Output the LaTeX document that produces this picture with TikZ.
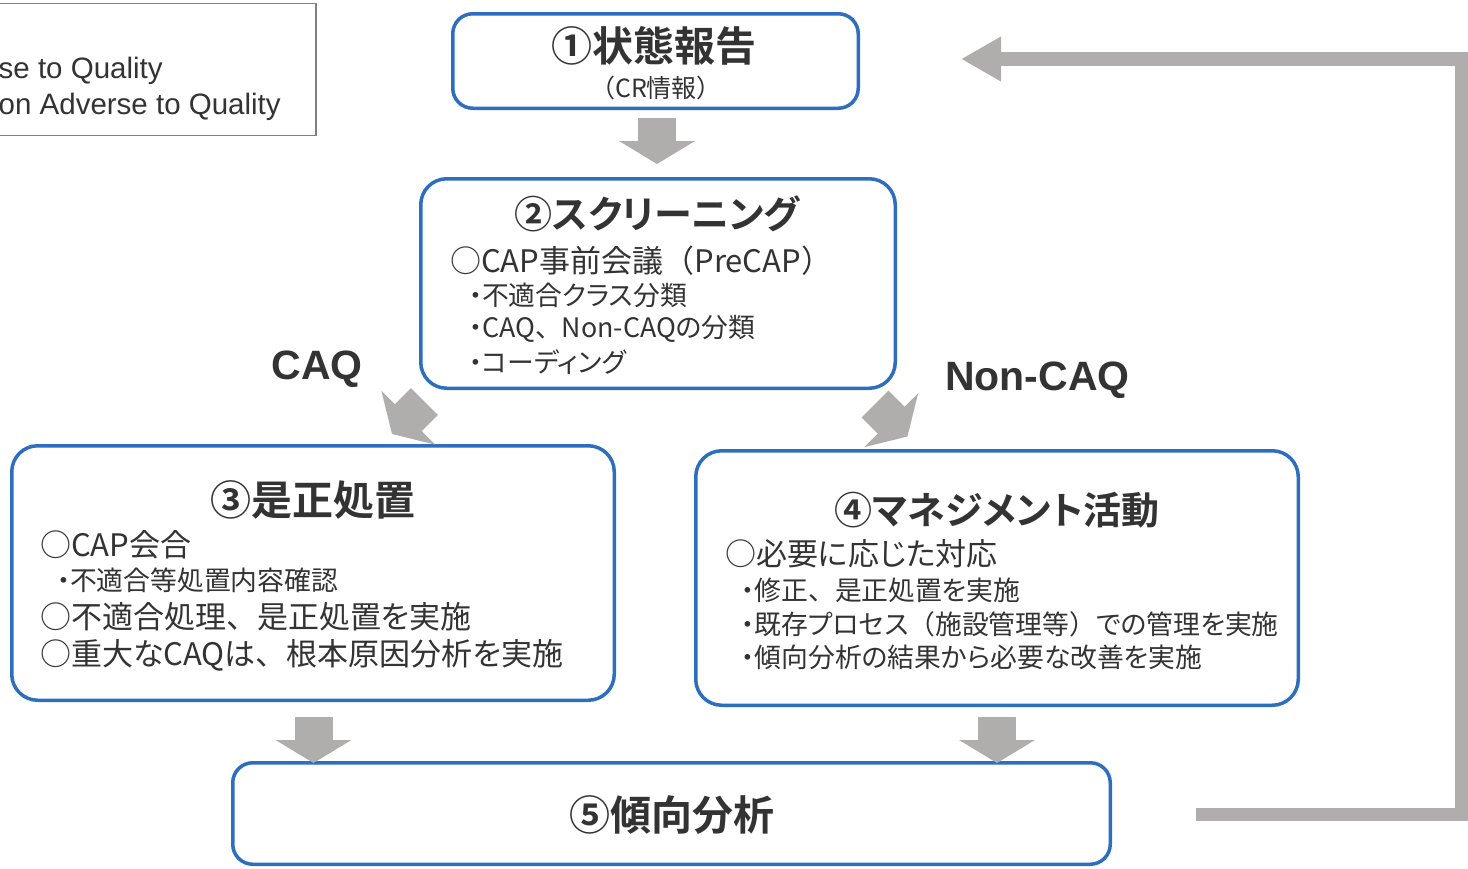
\documentclass[tikz,border=0pt]{standalone}
\usepackage{fontspec}
\usetikzlibrary{arrows.meta}
\setmainfont{Liberation Sans}
\newfontfamily\jp{Noto Sans CJK JP}[RawFeature=+palt, BoldFont=Noto Sans CJK JP Bold]
\newfontfamily\jpf{Noto Sans CJK JP}
\newfontfamily\lat{Liberation Sans}
\newcommand{\fw}[1]{{\jpf #1}}
\definecolor{boxblue}{RGB}{46,110,190}
\definecolor{agray}{RGB}{175,174,172}
\definecolor{ink}{RGB}{51,51,51}
\definecolor{legendline}{RGB}{128,128,128}
\tikzset{
  boxstyle/.style={draw=boxblue, line width=3.5pt, fill=white, inner sep=0pt},
  titlestyle/.style={font=\jp\bfseries\fontsize{41}{41}\selectfont, text=ink, inner sep=0pt},
  katatitle/.style={font=\jp\bfseries\fontsize{38}{38}\selectfont, text=ink, inner sep=0pt},
  bodystyle/.style={font=\jp\fontsize{31}{31}\selectfont, text=ink, inner sep=0pt, anchor=west},
  substyle/.style={font=\jp\fontsize{26.8}{26.8}\selectfont, text=ink, inner sep=0pt, anchor=west},
  lblstyle/.style={font=\lat\bfseries\fontsize{41}{41}\selectfont, text=ink, inner sep=0pt},
  legendtxt/.style={font=\lat\fontsize{29.5}{29.5}\selectfont, text=ink, anchor=base west, inner sep=0pt},
  flowarrow/.style={draw=agray, line width=38pt, -{Triangle[width=75pt,length=23pt]}},
  fbline/.style={draw=agray, line width=13.5pt, line join=miter, -{Triangle[width=42pt,length=40pt]}}
}
\begin{document}
\begin{tikzpicture}[x=1pt,y=-1pt]
\useasboundingbox (0,0) rectangle (1468,868);
\clip (0,0) rectangle (1468,868);

% legend
\node[draw=legendline, line width=1.5pt, minimum width=340pt, minimum height=132pt, anchor=north east, inner sep=0pt] (legend) at (316.5,2.5) {};
\node[legendtxt] (lg1) at (-1.5,78) {se to Quality};
\node[legendtxt] (lg2) at (-1.5,114) {on Adverse to Quality};

% boxes
\node[boxstyle, rounded corners=20pt, minimum width=405.5pt, minimum height=94.5pt] (b1) at (655.5,61) {};
\node[boxstyle, rounded corners=26pt, minimum width=474.5pt, minimum height=209.5pt] (b2) at (658,283.5) {};
\node[boxstyle, rounded corners=26pt, minimum width=602.5pt, minimum height=254.5pt] (b3) at (313,573) {};
\node[boxstyle, rounded corners=26pt, minimum width=602.5pt, minimum height=254.5pt] (b4) at (997,578) {};
\node[boxstyle, rounded corners=20pt, minimum width=877.5pt, minimum height=101.5pt] (b5) at (671.5,813.5) {};

% box 1 text
\node[titlestyle] (t1) at (654,46) {①状態報告};
\node[font=\jp\fontsize{25}{25}\selectfont, text=ink, inner sep=0pt] (t1s) at (656,88) {（CR情報）};

% box 2 text
\node[katatitle] (t2) at (657,214) {②スクリーニング};
\node[bodystyle] (l21) at (450,261) {○CAP事前会議\fw{（}PreCAP\fw{）}};
\node[substyle] (l22) at (468.5,295) {・不適合クラス分類};
\node[substyle] (l23) at (468.5,329) {・CAQ\fw{、}Non-CAQの分類};
\node[substyle] (l24) at (468.5,362) {・コーディング};

% box 3 text
\node[titlestyle] (t3) at (313,500) {③是正処置};
\node[bodystyle] (l31) at (40,545) {○CAP会合};
\node[substyle] (l32) at (56.5,580) {・不適合等処置内容確認};
\node[bodystyle] (l33) at (40,617) {○不適合処理\fw{、}是正処置を実施};
\node[bodystyle] (l34) at (40,655) {○重大なCAQは\fw{、}根本原因分析を実施};

% box 4 text
\node[katatitle] (t4) at (997,510) {④マネジメント活動};
\node[bodystyle] (l41) at (725,554) {○必要に応じた対応};
\node[substyle] (l42) at (741,590) {・修正\fw{、}是正処置を実施};
\node[substyle] (l43) at (741,624) {・既存プロセス\fw{（}施設管理等\fw{）}での管理を実施};
\node[substyle] (l44) at (741,657) {・傾向分析の結果から必要な改善を実施};

% box 5 text
\node[titlestyle] (t5) at (672,815) {⑤傾向分析};

% labels
\node[lblstyle] (caq) at (317,369) {CAQ};
\node[lblstyle] (noncaq) at (1037.5,380) {Non-CAQ};

% arrow coordinates
\coordinate (a12s) at (657,118);
\coordinate (a12e) at (657,164);
\coordinate (a23s) at (424.5,401.5);
\coordinate (a23e) at (392,434);
\coordinate (a24s) at (875,404);
\coordinate (a24e) at (907.5,436.5);
\coordinate (a35s) at (313.5,717);
\coordinate (a35e) at (313.5,763);
\coordinate (a45s) at (997,717);
\coordinate (a45e) at (997,763);
\coordinate (fbs) at (1195.5,814.5);
\coordinate (fbc1) at (1462,814.5);
\coordinate (fbc2) at (1462,59);
\coordinate (fbe) at (961,59);

\draw[flowarrow] (a12s) -- (a12e);
\draw[flowarrow] (a23s) -- (a23e);
\draw[flowarrow] (a24s) -- (a24e);
\draw[flowarrow] (a35s) -- (a35e);
\draw[flowarrow] (a45s) -- (a45e);
\draw[fbline] (fbs) -- (fbc1) -- (fbc2) -- (fbe);
\end{tikzpicture}
\end{document}
